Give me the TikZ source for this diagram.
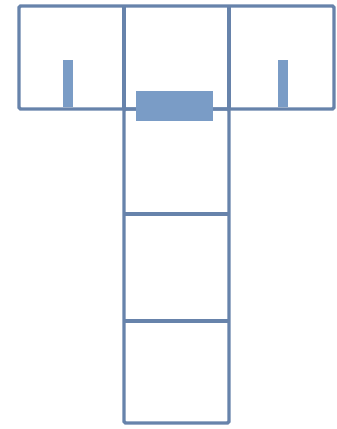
\documentclass[tikz,border=0pt]{standalone}
\definecolor{edge}{HTML}{6783AB}
\definecolor{fillc}{HTML}{7A9CC6}
\tikzset{frame/.style={draw=edge,line width=3.2pt,rounded corners=1.5pt},
  bar/.style={fill=fillc,draw=none}}
\begin{document}
\begin{tikzpicture}[x=1pt,y=-1pt]
\useasboundingbox (0,0) rectangle (337,429);
% top frame
\draw[frame] (19,6) rectangle (334,109);
\draw[frame] (124,6) -- (124,109);
\draw[frame] (229,6) -- (229,109);
% column
\draw[frame] (124,109) rectangle (229,423);
\draw[frame] (124,214) -- (229,214);
\draw[frame] (124,321) -- (229,321);
% bars
\fill[bar] (63,60) rectangle (73,107);
\fill[bar] (278,60) rectangle (288,107);
\fill[bar] (136,91) rectangle (213,121);
\end{tikzpicture}
\end{document}
